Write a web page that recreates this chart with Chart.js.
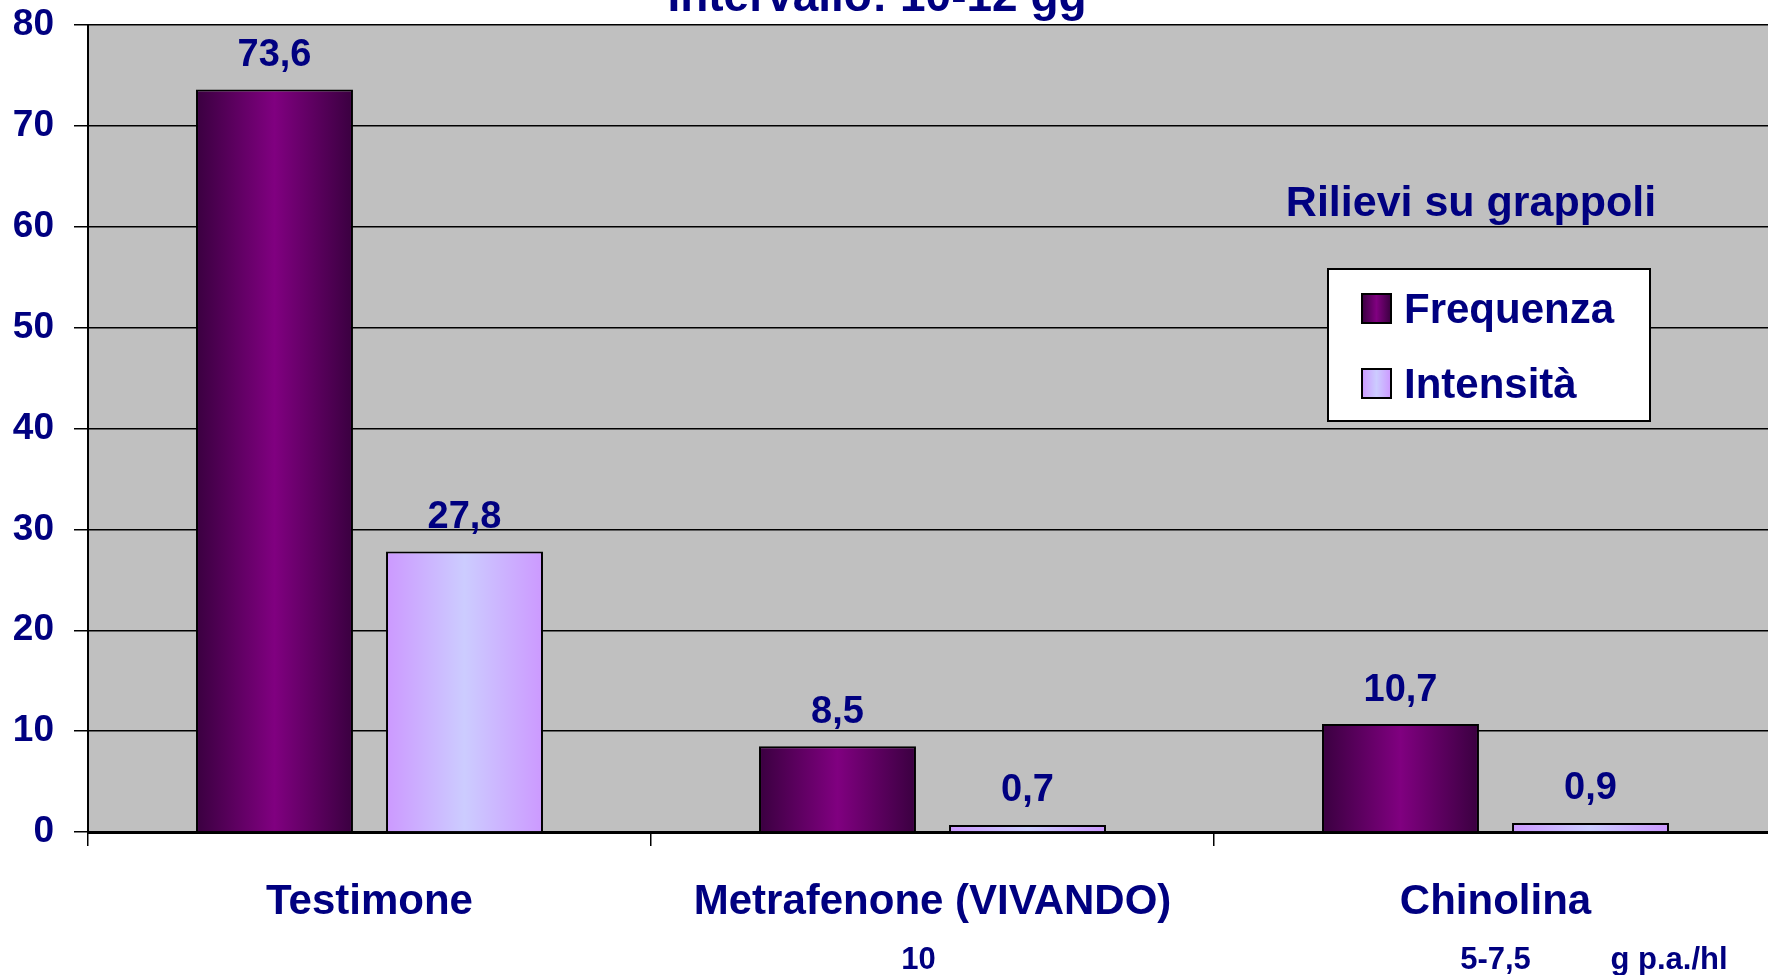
<!DOCTYPE html>
<html>
<head>
<meta charset="utf-8">
<title>Rilievi su grappoli</title>
<script src="https://cdn.jsdelivr.net/npm/chart.js@4"></script>
<style>
  html, body { margin: 0; padding: 0; background: #fff; overflow: hidden; }
  #wrap { width: 1780px; height: 975px; }
</style>
</head>
<body>
<div id="wrap"><canvas id="chart" width="1780" height="975"></canvas></div>
<script>
// dati
const categories = ['Testimone', 'Metrafenone (VIVANDO)', 'Chinolina'];
const doses = ['', '10', '5-7,5'];
const doseUnit = 'g p.a./hl';
const frequenza = [73.6, 8.5, 10.7];
const intensita = [27.8, 0.7, 0.9];
const yMin = 0;
const yMax = 80;
const yStep = 10;

const titleText = 'Intervallo: 10-12 gg';
const subtitleText = 'Rilievi su grappoli';

const NAVY = '#000080';
const FONT = "'Liberation Sans', Arial, sans-serif";
const CAT_PCT = 0.675;
const BAR_PCT = 0.826;

const stopsFreq = ['#3a0040', '#800080', '#3a0040'];
const stopsInt = ['#cc99ff', '#ccccff', '#cc99ff'];

function makeGradient(ctx, left, right, stops) {
  const g = ctx.createLinearGradient(left, 0, right, 0);
  g.addColorStop(0, stops[0]);
  g.addColorStop(0.5, stops[1]);
  g.addColorStop(1, stops[2]);
  return g;
}

// gradiente orizzontale per ogni barra, calcolato dalla scala x
function barGradient(stops) {
  return (c) => {
    const chart = c.chart;
    const xs = chart.scales.x;
    if (!chart.chartArea || !xs || c.dataIndex === undefined) return stops[1];
    const catW = xs.width / categories.length;
    const slot = catW * CAT_PCT / 2;
    const xc = xs.getPixelForValue(c.dataIndex) + (c.datasetIndex - 0.5) * slot;
    const w = slot * BAR_PCT;
    return makeGradient(chart.ctx, xc - w / 2, xc + w / 2, stops);
  };
}

const plotBackground = {
  id: 'plotBackground',
  beforeDraw(chart) {
    const { ctx, chartArea: a } = chart;
    ctx.save();
    ctx.fillStyle = '#c0c0c0';
    ctx.fillRect(a.left, a.top, a.right - a.left, a.bottom - a.top);
    ctx.restore();
  }
};

const valueLabels = {
  id: 'valueLabels',
  afterDatasetsDraw(chart) {
    const ctx = chart.ctx;
    ctx.save();
    ctx.fillStyle = NAVY;
    ctx.font = 'bold 38px ' + FONT;
    ctx.textAlign = 'center';
    ctx.textBaseline = 'middle';
    chart.data.datasets.forEach((ds, di) => {
      chart.getDatasetMeta(di).data.forEach((bar, i) => {
        const txt = ds.data[i].toFixed(1).replace('.', ',');
        ctx.fillText(txt, bar.x, bar.y - 34);
      });
    });
    ctx.restore();
  }
};

const extraText = {
  id: 'extraText',
  afterDraw(chart) {
    const ctx = chart.ctx;
    const xs = chart.scales.x;
    ctx.save();
    ctx.fillStyle = NAVY;
    ctx.textAlign = 'center';
    ctx.textBaseline = 'alphabetic';

    // titolo, tagliato in alto come nell'originale
    ctx.font = 'bold 46px ' + FONT;
    ctx.fillText(titleText, 877, 11);

    // sottotitolo
    ctx.font = 'bold 43px ' + FONT;
    ctx.fillText(subtitleText, 1471, 216);

    // dosi sotto le categorie
    ctx.font = 'bold 31px ' + FONT;
    ctx.textBaseline = 'middle';
    doses.forEach((d, i) => {
      if (!d) return;
      const off = i === 1 ? -14 : 0;
      ctx.fillText(d, xs.getPixelForValue(i) + off, 960);
    });
    ctx.fillText(doseUnit, 1669, 960);

    // legenda
    const bx = 1328, by = 269, bw = 322, bh = 152;
    ctx.fillStyle = '#fff';
    ctx.fillRect(bx, by, bw, bh);
    ctx.strokeStyle = '#000';
    ctx.lineWidth = 2;
    ctx.strokeRect(bx, by, bw, bh);
    const rows = [308, 383];
    chart.data.datasets.forEach((ds, di) => {
      const cy = rows[di];
      const stops = di === 0 ? stopsFreq : stopsInt;
      ctx.fillStyle = makeGradient(ctx, 1362, 1391, stops);
      ctx.fillRect(1362, cy - 14, 29, 29);
      ctx.lineWidth = 2;
      ctx.strokeStyle = '#000';
      ctx.strokeRect(1362, cy - 14, 29, 29);
      ctx.fillStyle = NAVY;
      ctx.font = 'bold 42px ' + FONT;
      ctx.textAlign = 'left';
      ctx.textBaseline = 'alphabetic';
      ctx.fillText(ds.label, 1404, cy + 15);
    });
    ctx.restore();
  }
};

new Chart(document.getElementById('chart'), {
  type: 'bar',
  data: {
    labels: categories,
    datasets: [
      {
        label: 'Frequenza',
        data: frequenza,
        backgroundColor: barGradient(stopsFreq),
        borderColor: '#000',
        borderWidth: 2,
        categoryPercentage: CAT_PCT,
        barPercentage: BAR_PCT
      },
      {
        label: 'Intensità',
        data: intensita,
        backgroundColor: barGradient(stopsInt),
        borderColor: '#000',
        borderWidth: 2,
        categoryPercentage: CAT_PCT,
        barPercentage: BAR_PCT
      }
    ]
  },
  options: {
    responsive: false,
    animation: false,
    layout: { padding: { top: 25, right: 3, left: 0, bottom: 0 } },
    plugins: {
      legend: { display: false },
      title: { display: false },
      tooltip: { enabled: false }
    },
    scales: {
      x: {
        afterFit(scale) { scale.height = 143; scale.paddingLeft = 0; scale.paddingRight = 0; },
        grid: {
          offset: true,
          drawOnChartArea: false,
          drawTicks: true,
          tickLength: 14,
          color: '#000',
          lineWidth: 1.5
        },
        border: { display: true, color: '#000', width: 3 },
        ticks: {
          color: NAVY,
          font: { family: FONT, size: 42, weight: 'bold' },
          padding: 31,
          maxRotation: 0,
          autoSkip: false
        }
      },
      y: {
        min: yMin,
        max: yMax,
        afterFit(scale) { scale.width = 88; scale.paddingTop = 0; scale.paddingBottom = 0; },
        grid: {
          color: '#000',
          lineWidth: 1.5,
          tickLength: 14
        },
        border: { display: true, color: '#000', width: 2 },
        ticks: {
          stepSize: yStep,
          color: NAVY,
          font: { family: FONT, size: 37, weight: 'bold' },
          padding: 20
        }
      }
    }
  },
  plugins: [plotBackground, valueLabels, extraText]
});
</script>
</body>
</html>
